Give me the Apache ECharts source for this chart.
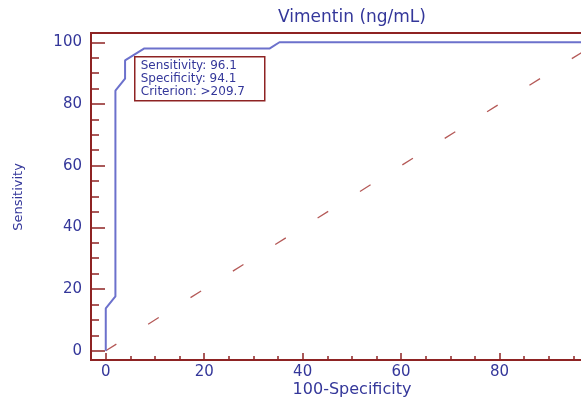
<!DOCTYPE html>
<html>
<head>
<meta charset="utf-8">
<script src="https://cdn.jsdelivr.net/npm/echarts@6/dist/echarts.min.js"></script>
<style>html,body{margin:0;padding:0;background:#fff;}#chart{width:581px;height:399px;}</style>
</head>
<body>
<div id="chart"></div>
<script>
// ROC curve points (100-Specificity, Sensitivity)
const fprValues  = [0, 0, 1.96, 1.96, 3.92, 3.92, 5.88, 7.84, 33.33, 35.29, 100];
const sensValues = [0, 13.7, 17.6, 84.3, 88.2, 94.1, 96.1, 98.0, 98.0, 100, 100];
// Reference diagonal
const diagX = [0, 100];
const diagY = [0, 100];
// Tick values
const majorTicks = [0, 20, 40, 60, 80, 100];
const minorTicks = [5, 10, 15, 25, 30, 35, 45, 50, 55, 65, 70, 75, 85, 90, 95];
const labelTicksX = [0, 20, 40, 60, 80];
const labelTicksY = [0, 20, 40, 60, 80, 100];
const titleText = 'Vimentin (ng/mL)';
const xName = '100-Specificity';
const yName = 'Sensitivity';
const boxLines = ['Sensitivity: 96.1', 'Specificity: 94.1', 'Criterion: >209.7'];

const RED = '#8e2323';
const BLUE = '#34379a';
const CURVE = '#6c71cc';
const DIAG = '#b55a58';
const FONT = 'DejaVu Sans';

const chart = echarts.init(document.getElementById('chart'), null, {renderer: 'canvas'});
const rocData = fprValues.map((x, i) => [x, sensValues[i]]);
const diagData = diagX.map((x, i) => [x, diagY[i]]);

const noLine = {show: false, onZero: false};
const xBase = {type: 'value', min: -3, max: 100, splitLine: {show: false}, axisLine: noLine, position: 'bottom'};
const yBase = {type: 'value', min: -3, max: 103, splitLine: {show: false}, axisLine: noLine, position: 'left'};
const gridRect = {left: 91, width: 507, top: 33, height: 327, outerBoundsMode: 'none', containLabel: false};

chart.setOption({
  animation: false,
  backgroundColor: '#fff',
  grid: [
    Object.assign({}, gridRect, {show: true, borderColor: RED, borderWidth: 2, backgroundColor: 'transparent'}),
    Object.assign({}, gridRect, {show: false})
  ],
  xAxis: [
    Object.assign({}, xBase, {gridIndex: 0,
      axisTick: {show: true, inside: true, length: 7, customValues: majorTicks, lineStyle: {color: RED, width: 1.5}},
      axisLabel: {show: true, customValues: labelTicksX, margin: 5, color: BLUE, fontFamily: FONT, fontSize: 15}
    }),
    Object.assign({}, xBase, {gridIndex: 1,
      axisTick: {show: true, inside: true, length: 4, customValues: minorTicks, lineStyle: {color: RED, width: 1.5}},
      axisLabel: {show: false}
    })
  ],
  yAxis: [
    Object.assign({}, yBase, {gridIndex: 0,
      axisTick: {show: true, inside: true, length: 14, customValues: majorTicks, lineStyle: {color: RED, width: 1.5}},
      axisLabel: {show: true, customValues: labelTicksY, margin: 9, color: BLUE, fontFamily: FONT, fontSize: 15}
    }),
    Object.assign({}, yBase, {gridIndex: 1,
      axisTick: {show: true, inside: true, length: 8, customValues: minorTicks, lineStyle: {color: RED, width: 1.5}},
      axisLabel: {show: false}
    })
  ],
  graphic: [
    {type: 'text', x: 352, y: 18, style: {text: titleText, fill: BLUE, font: '17px ' + FONT, align: 'center', verticalAlign: 'middle'}},
    {type: 'text', x: 352, y: 390, style: {text: xName, fill: BLUE, font: '16px ' + FONT, align: 'center', verticalAlign: 'middle'}},
    {type: 'text', x: 19, y: 197, rotation: Math.PI / 2, style: {text: yName, fill: BLUE, font: '13px "Liberation Sans Narrow", ' + FONT, align: 'center', verticalAlign: 'middle'}},
    {type: 'group', left: 134, top: 56, z: 100, children: [
      {type: 'rect', shape: {x: 0, y: 0, width: 130, height: 44}, style: {fill: '#fff', stroke: RED, lineWidth: 1.5}},
      {type: 'text', x: 6, y: 3, style: {text: boxLines.join('\n'), fill: BLUE, font: '12px ' + FONT, lineHeight: 13}}
    ]}
  ],
  series: [
    {type: 'line', name: 'diag', xAxisIndex: 0, yAxisIndex: 0, data: diagData, symbol: 'none', silent: true,
     lineStyle: {color: DIAG, width: 1.3, type: [12.5, 37.5]}},
    {type: 'line', name: 'roc', xAxisIndex: 0, yAxisIndex: 0, data: rocData, symbol: 'none', silent: true,
     lineStyle: {color: CURVE, width: 2}}
  ]
});
</script>
</body>
</html>
